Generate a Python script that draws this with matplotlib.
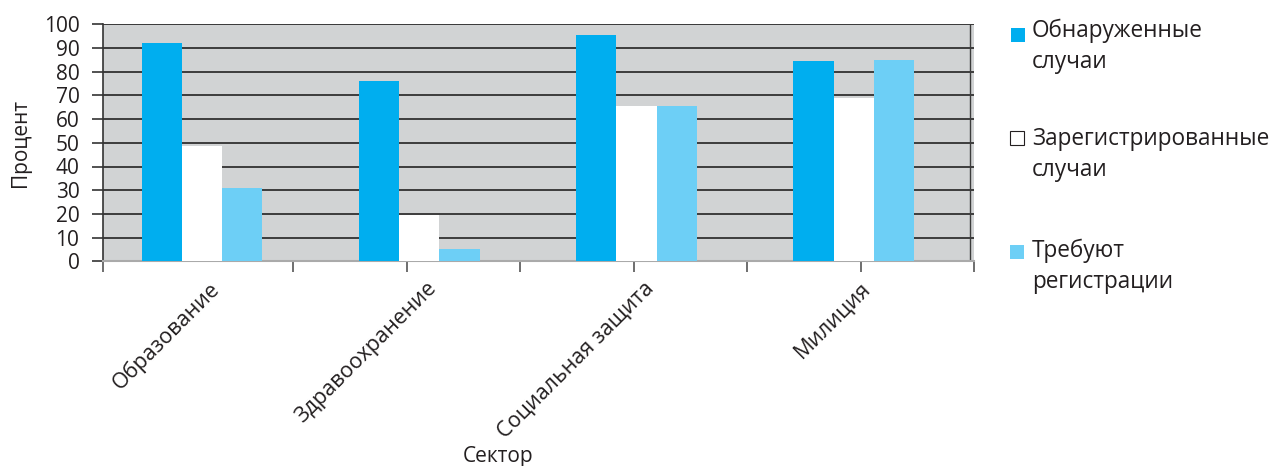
import matplotlib
matplotlib.use("Agg")
import matplotlib.pyplot as plt
from matplotlib.patches import Rectangle
import numpy as np

sectors = ["Образование", "Здравоохранение", "Социальная защита", "Милиция"]
series_names = ["Обнаруженные\nслучаи", "Зарегистрированные\nслучаи", "Требуют\nрегистрации"]
detected = [92, 76, 95.5, 84.5]
registered = [48.6, 19.5, 65.5, 69]
need_registration = [31, 5, 65.5, 85]

colors = ["#00aeef", "#ffffff", "#6dcff6"]

plt.rcParams["font.family"] = ["Open Sans", "DejaVu Sans"]

W, H = 1279, 466
fig = plt.figure(figsize=(W / 100, H / 100), dpi=100)


def fx(x):
    return x / W


def fy(y):
    return 1 - y / H


ax = fig.add_axes([fx(103), fy(261.3), fx(974) - fx(103), fy(24.3) - fy(261.3)])
ax.set_facecolor("#d1d3d4")

x = np.arange(len(sectors))
width = 0.185
for i, vals in enumerate([detected, registered, need_registration]):
    ax.bar(x + (i - 1) * width, vals, width, color=colors[i], zorder=3,
           linewidth=0)

ax.set_ylim(0, 100)
ax.set_xlim(-0.456, 3.534)
ax.set_yticks(range(0, 101, 10))
ax.yaxis.grid(True, color="#3c3c3c", linewidth=1.4, zorder=1)
ax.set_axisbelow(True)

# category labels
ax.set_xticks(x + 0.03)
ax.set_xticklabels(sectors, rotation=45, ha="right", va="top",
                   rotation_mode="anchor", fontsize=15.5, color="#231f20")
ax.tick_params(axis="x", which="major", length=0, pad=12)

# boundary ticks on the x axis
minor = [-0.456] + list(np.arange(0.419, 3.6, 0.5225))
ax.set_xticks(minor, minor=True)
ax.tick_params(axis="x", which="minor", length=8, width=1.2, color="#555555")

ax.tick_params(axis="y", length=8, width=1.2, color="#333333", pad=9,
               labelsize=15, labelcolor="#231f20")

for s in ["top", "right"]:
    ax.spines[s].set_visible(False)
ax.spines["left"].set_color("#333333")
ax.spines["left"].set_linewidth(1.2)
ax.spines["bottom"].set_color("#aaaaaa")
ax.spines["bottom"].set_linewidth(1.5)
ax.axhline(100, color="#3c3c3c", linewidth=1.4, zorder=2)
ax.axvline(3.534, color="#3c3c3c", linewidth=1.0, zorder=2)

ax.set_ylabel("Процент", fontsize=15, color="#231f20", labelpad=9)
ax.set_xlabel("Сектор", fontsize=15, color="#231f20", va="top")
ax.xaxis.set_label_coords(0.4535, -0.78)

# legend drawn by hand
legend_pos = [(1011, 28, 32), (1010, 131, 140), (1010, 245, 252)]
for i, (lx, ly, ty) in enumerate(legend_pos):
    fig.add_artist(Rectangle((fx(lx), fy(ly + 14)), 14 / W, 14 / H,
                             transform=fig.transFigure, facecolor=colors[i],
                             edgecolor="#231f20" if i == 1 else "none",
                             linewidth=0.8))
    fig.text(fx(1032), fy(ty - 13), series_names[i], fontsize=16.3,
             color="#231f20", va="top", ha="left", linespacing=1.38)

fig.savefig("out.png", dpi=100)
